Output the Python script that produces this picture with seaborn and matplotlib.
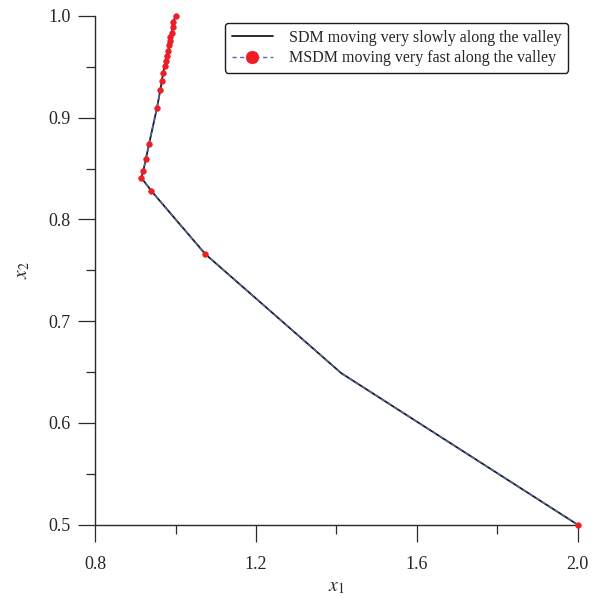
import matplotlib
matplotlib.use("Agg")
import matplotlib.pyplot as plt
from matplotlib.ticker import MultipleLocator, FormatStrFormatter
import numpy as np
import pandas as pd
import seaborn as sns

# Iterates of the two descent methods, listed from the start point (2.0, 0.5)
path_x1 = [2.000, 1.412, 1.074, 0.940, 0.915, 0.920, 0.926, 0.934, 0.954,
           0.962, 0.966, 0.969, 0.973, 0.976, 0.978, 0.982, 0.984, 0.985,
           0.987, 0.990, 0.993, 0.994, 1.000]
path_x2 = [0.500, 0.649, 0.766, 0.828, 0.841, 0.848, 0.859, 0.874, 0.910,
           0.927, 0.936, 0.944, 0.951, 0.956, 0.961, 0.966, 0.971, 0.975,
           0.979, 0.983, 0.989, 0.994, 1.000]
# MSDM iterates that carry a marker (every point except the long SDM step)
msdm_marked = [0, 2, 3, 4, 5, 6, 7, 8, 9, 10, 11, 12, 13, 14, 15, 16, 17,
               18, 19, 20, 21, 22]

sdm_label = "SDM moving very slowly along the valley"
msdm_label = "MSDM moving very fast along the valley"

x_ticks = [0.8, 1.2, 1.6, 2.0]
y_ticks = [0.5, 0.6, 0.7, 0.8, 0.9, 1.0]

df = pd.DataFrame({"x1": path_x1, "x2": path_x2})

sns.set_style("ticks")
plt.rcParams["font.family"] = ["Liberation Serif", "DejaVu Serif"]
plt.rcParams["mathtext.fontset"] = "stix"

fig = plt.figure(figsize=(6.02, 5.99), dpi=100)
ax = fig.add_axes([0.158, 0.124, 0.8016, 0.8493])

sns.lineplot(data=df, x="x1", y="x2", sort=False, estimator=None,
             color="#1c1c1c", linewidth=1.3, label=sdm_label, ax=ax)
sns.lineplot(data=df, x="x1", y="x2", sort=False, estimator=None,
             color="#5068b0", linewidth=1.0, linestyle=(0, (3, 2.5)),
             marker="o", markersize=4.0, markerfacecolor="#ee1c25",
             markeredgecolor="#ee1c25", markeredgewidth=0.5,
             markevery=msdm_marked, label=msdm_label, clip_on=False,
             zorder=3, ax=ax)

ax.set_xlim(0.8, 2.0)
ax.set_ylim(0.5, 1.0)
ax.set_xticks(x_ticks)
ax.set_yticks(y_ticks)
ax.xaxis.set_major_formatter(FormatStrFormatter("%.1f"))
ax.yaxis.set_major_formatter(FormatStrFormatter("%.1f"))
ax.xaxis.set_minor_locator(MultipleLocator(0.2))
ax.yaxis.set_minor_locator(MultipleLocator(0.05))

for side in ("top", "right"):
    ax.spines[side].set_visible(False)
for side in ("left", "bottom"):
    ax.spines[side].set_linewidth(1.0)
    ax.spines[side].set_color("#2a2a2a")
    ax.spines[side].set_zorder(1)

ax.tick_params(which="major", direction="out", length=12.5, width=0.9,
               color="#2a2a2a", labelsize=13, pad=5)
ax.tick_params(axis="x", which="major", pad=10)
ax.tick_params(which="minor", direction="out", length=6.5, width=0.9,
               color="#2a2a2a")

ax.set_xlabel("$x_1$", fontsize=14, labelpad=4)
ax.set_ylabel("$x_2$", fontsize=14, labelpad=12)

leg = ax.legend(loc="upper right", bbox_to_anchor=(0.98, 0.986),
                borderaxespad=0.0, fontsize=11.5, frameon=True,
                fancybox=True, edgecolor="#1c1c1c", framealpha=1.0,
                handlelength=2.6, borderpad=0.4, labelspacing=0.3,
                handletextpad=1.0)
leg.set_zorder(5)
leg.get_frame().set_linewidth(1.0)
leg.legend_handles[1].set_markersize(9)

fig.savefig("out.png", dpi=100)
